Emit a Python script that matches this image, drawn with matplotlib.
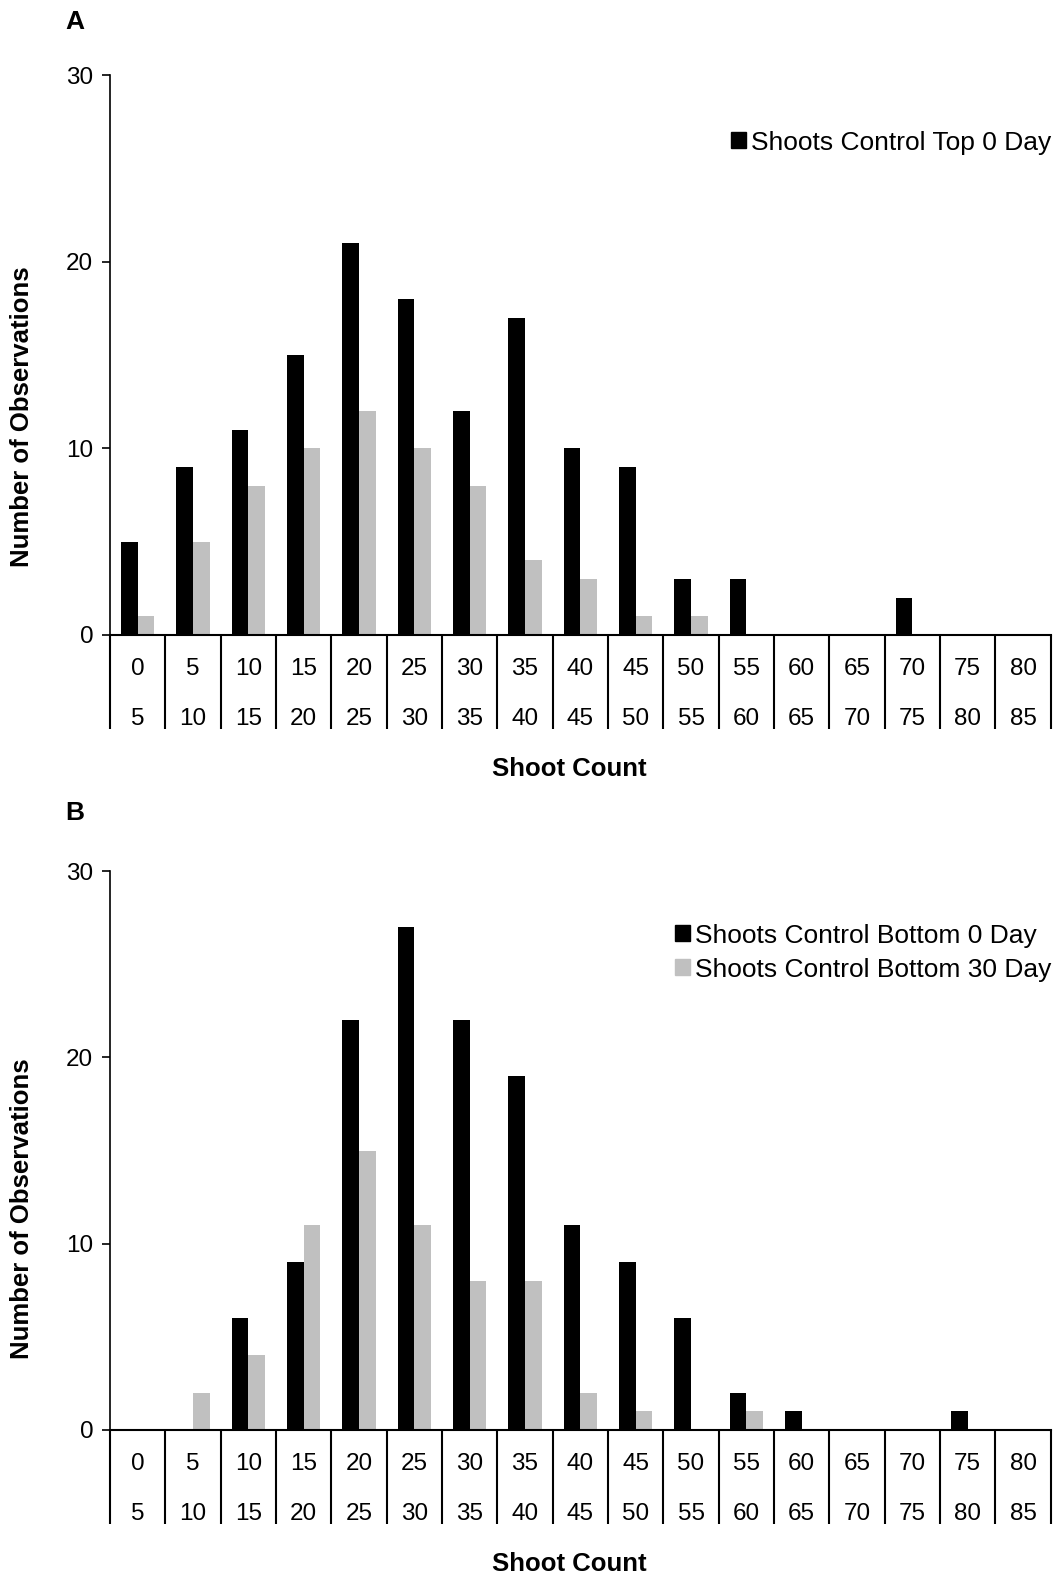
import matplotlib
import matplotlib.pyplot as plt
import numpy as np
from matplotlib.patches import Patch

matplotlib.use("Agg")
plt.rcParams["font.family"] = ["Liberation Sans", "DejaVu Sans"]

bin_low = [0, 5, 10, 15, 20, 25, 30, 35, 40, 45, 50, 55, 60, 65, 70, 75, 80]
bin_high = [5, 10, 15, 20, 25, 30, 35, 40, 45, 50, 55, 60, 65, 70, 75, 80, 85]

top_0day = [5, 9, 11, 15, 21, 18, 12, 17, 10, 9, 3, 3, 0, 0, 2, 0, 0]
top_30day = [1, 5, 8, 10, 12, 10, 8, 4, 3, 1, 1, 0, 0, 0, 0, 0, 0]
bottom_0day = [0, 0, 6, 9, 22, 27, 22, 19, 11, 9, 6, 2, 1, 0, 0, 1, 0]
bottom_30day = [0, 2, 4, 11, 15, 11, 8, 8, 2, 1, 0, 1, 0, 0, 0, 0, 0]

BLACK = "#000000"
GRAY = "#c0c0c0"

fig = plt.figure(figsize=(10.56, 15.78), dpi=100)


def draw_panel(rect, black, gray, legend_labels, letter, letter_y, ylabel_y,
               legend_y):
    ax = fig.add_axes(rect)
    n = len(black)
    x = np.arange(n)
    w = 0.3
    ax.bar(x + 0.5 - w / 2, black, w, color=BLACK)
    ax.bar(x + 0.5 + w / 2, gray, w, color=GRAY)
    ax.set_xlim(0, n)
    ax.set_ylim(0, 30)
    ax.set_yticks([0, 10, 20, 30])
    ax.tick_params(axis="y", labelsize=17.5, length=6, width=1.2, pad=6)
    ax.set_xticks(np.arange(n + 1))
    ax.set_xticklabels([])
    ax.tick_params(axis="x", length=68, width=1.5, direction="out")
    for s in ["top", "right"]:
        ax.spines[s].set_visible(False)
    ax.spines["left"].set_linewidth(1.2)
    ax.spines["bottom"].set_linewidth(1.5)
    tr = ax.get_xaxis_transform()
    for i in range(n):
        ax.text(i + 0.5, -0.061, str(bin_low[i]), transform=tr, ha="center",
                va="center", fontsize=17.5)
        ax.text(i + 0.5, -0.150, str(bin_high[i]), transform=tr, ha="center",
                va="center", fontsize=17.5)
    ax.text(0.488, -0.24, "Shoot Count", transform=ax.transAxes, ha="center",
            va="center", fontsize=18.5, fontweight="bold")
    handles = [Patch(color=BLACK, label=legend_labels[0])]
    if len(legend_labels) > 1:
        handles.append(Patch(color=GRAY, label=legend_labels[1]))
    ax.legend(handles=handles, loc="upper right",
              bbox_to_anchor=(1.012, legend_y),
              frameon=False, fontsize=19, handlelength=0.55, handleheight=0.55,
              handletextpad=0.2, labelspacing=0.38, borderaxespad=0.0)
    fig.text(0.071, letter_y, letter, fontsize=19, fontweight="bold",
             ha="center", va="center")
    fig.text(0.021, ylabel_y, "Number of Observations", rotation=90,
             fontsize=18.5, fontweight="bold", ha="center", va="center")
    return ax


draw_panel([0.1042, 0.5976, 0.8908, 0.3546], top_0day, top_30day,
           ["Shoots Control Top 0 Day"], "A", 0.986, 0.736, 0.92)
draw_panel([0.1042, 0.0938, 0.8908, 0.3542], bottom_0day, bottom_30day,
           ["Shoots Control Bottom 0 Day", "Shoots Control Bottom 30 Day"],
           "B", 0.485, 0.234, 0.925)

fig.savefig("out.png", dpi=100)
